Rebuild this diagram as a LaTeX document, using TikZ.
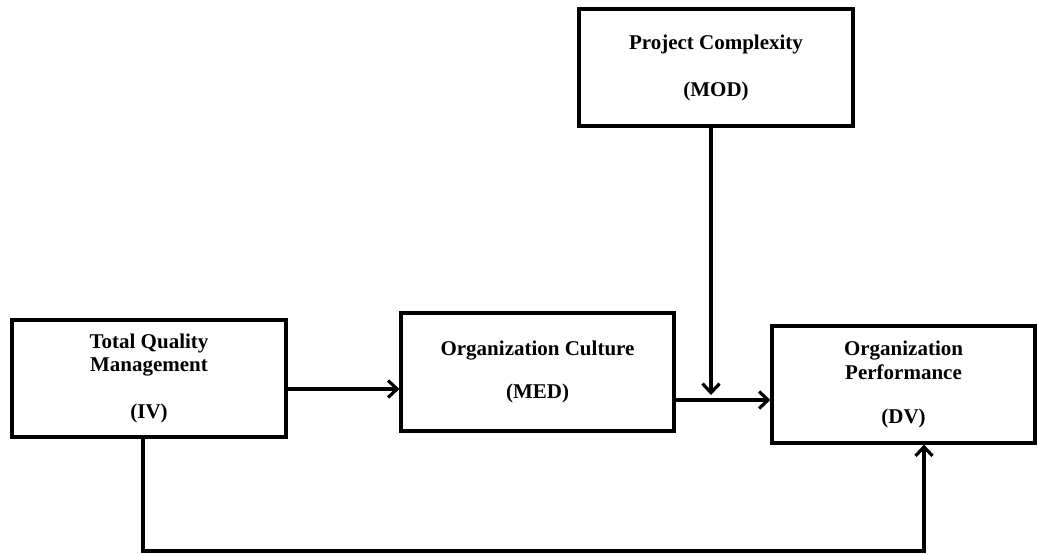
\documentclass[tikz,border=0pt]{standalone}
\usepackage{fontspec}
\setmainfont{Liberation Serif}
\usetikzlibrary{arrows.meta}

\begin{document}
\begin{tikzpicture}[x=1pt, y=-1pt, >={Straight Barb[length=9pt,width=17pt]}, line width=3.2pt,
	box/.style={draw, rectangle, line width=3.2pt, inner sep=0pt, align=center,
		font=\bfseries\fontsize{21}{23.5}\selectfont}]
	\useasboundingbox (0,0) rectangle (1038,554);
	
	% 变量框
	\node[box, minimum width=274pt, minimum height=117pt] (pc) at (716,67.5) {Project Complexity\\[23.5pt](MOD)};
	\node[box, minimum width=274pt, minimum height=117pt] (tqm) at (149,378.5) {Total Quality\\Management\\[23.5pt](IV)};
	\node[box, minimum width=273pt, minimum height=118pt] (oc) at (537.5,372) {Organization Culture\\[19.5pt](MED)};
	\node[box, minimum width=263pt, minimum height=117pt] (op) at (903.5,384.5) {Organization\\Performance\\[20.5pt](DV)};
	
	% 辅助点
	\coordinate (modtip) at (711,395);
	\coordinate (low) at (0,551);
	
	% 连线
	\draw[->] ([yshift=-10.5pt]tqm.east) -- ([yshift=-10.5pt]tqm.east -| oc.west);
	\draw[->] ([yshift=-28pt]oc.east) -- ([yshift=-28pt]oc.east -| op.west);
	\draw[->] (pc.south -| modtip) -- (modtip);
	\draw[->] ([xshift=-6pt]tqm.south) |- ([xshift=20.5pt]op.south |- low) -- ([xshift=20.5pt]op.south);
\end{tikzpicture}
\end{document}
